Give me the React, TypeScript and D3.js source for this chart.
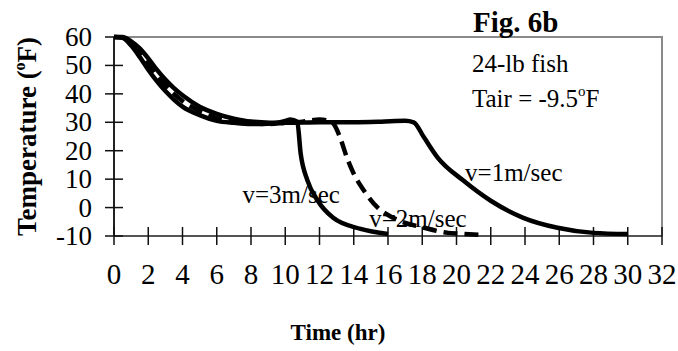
import React, { useEffect, useRef } from "react"
import * as d3 from "d3"

// cooling curves, 24-lb fish, Tair = -9.5 F
const v3Time = [0, 0.5, 1, 1.5, 2, 2.5, 3, 3.5, 4, 5, 6, 7, 8, 9, 10, 10.3, 10.7, 10.9, 11.3, 11.9, 12.8, 14.4, 16.0]
const v3Temp = [60, 59.7, 57, 53, 48.5, 44.5, 41, 38, 35.5, 32.5, 30.5, 29.8, 29.4, 29.5, 30.5, 31, 30.2, 19, 9.5, 2.4, -3.6, -7.5, -9.3]

const v2Time = [0, 0.5, 1, 1.5, 2, 2.5, 3, 3.5, 4, 5, 6, 7, 8, 9, 10, 11, 12, 12.5, 12.8, 13.2, 13.6, 14.0, 14.6, 15.4, 16.3, 16.7, 18.1, 19.5, 20.2, 21.5]
const v2Temp = [60, 59.8, 57.8, 54.5, 50.5, 46.5, 43, 40, 37.5, 34, 31.5, 30.2, 29.6, 29.4, 29.8, 30.2, 31, 30.5, 29.6, 24.7, 17.6, 11.9, 5.9, 0, -3.6, -4.7, -7.1, -8.9, -9.2, -9.6]

const v1Time = [0, 0.5, 1, 1.5, 2, 2.5, 3, 3.5, 4, 5, 6, 7, 8, 10, 12, 14, 15.6, 17, 17.5, 18.1, 18.9, 20.4, 22.0, 23.9, 25.9, 28.0, 30.0]
const v1Temp = [60, 60, 58.5, 56, 52.5, 48.5, 45, 42, 39.5, 35.5, 33, 31.3, 30.3, 29.8, 30, 30, 30.2, 30.5, 30, 24.7, 17.6, 9.5, 2.4, -3.6, -7.1, -8.9, -9.3]

const xTicks = d3.range(0, 33, 2)
const yTicks = d3.range(-10, 61, 10)

const series = [
    { name: "v=3m/sec", time: v3Time, temp: v3Temp, dash: null, lx: 7.5, ly: 1.5 },
    { name: "v=2m/sec", time: v2Time, temp: v2Temp, dash: "14,7", lx: 14.9, ly: -7 },
    { name: "v=1m/sec", time: v1Time, temp: v1Temp, dash: null, lx: 20.5, ly: 9.5 },
]

const W = 678
const H = 351

export default function App() {
    const ref = useRef<SVGSVGElement>(null)

    useEffect(() => {
        const svg = d3.select(ref.current)
        svg.selectAll("*").remove()

        const x = d3.scaleLinear().domain([0, 32]).range([114, 662])
        const y = d3.scaleLinear().domain([-10, 60]).range([236, 37])
        const font = "'Liberation Serif', 'Times New Roman', serif"

        // frame
        svg.append("rect")
            .attr("x", x(0)).attr("y", y(60))
            .attr("width", x(32) - x(0)).attr("height", y(-10) - y(60))
            .attr("fill", "none").attr("stroke", "#8a8a8a").attr("stroke-width", 2)

        // axes
        svg.append("line")
            .attr("x1", x(0)).attr("x2", x(0)).attr("y1", y(60)).attr("y2", y(-10))
            .attr("stroke", "#222").attr("stroke-width", 2)
        svg.append("line")
            .attr("x1", x(0)).attr("x2", x(32)).attr("y1", y(-10)).attr("y2", y(-10))
            .attr("stroke", "#555").attr("stroke-width", 2)

        svg.selectAll(".xt").data(xTicks).enter().append("line")
            .attr("x1", d => x(d)).attr("x2", d => x(d))
            .attr("y1", y(-10) - 9).attr("y2", y(-10) + 9)
            .attr("stroke", "#111").attr("stroke-width", 1.5)
        svg.selectAll(".yt").data(yTicks).enter().append("line")
            .attr("x1", x(0) - 9).attr("x2", x(0) + 9)
            .attr("y1", d => y(d)).attr("y2", d => y(d))
            .attr("stroke", "#111").attr("stroke-width", 1.5)

        svg.selectAll(".xl").data(xTicks).enter().append("text")
            .attr("x", d => x(d)).attr("y", 284)
            .attr("text-anchor", "middle")
            .attr("font-family", font).attr("font-size", 29)
            .text(d => d)
        svg.selectAll(".yl").data(yTicks).enter().append("text")
            .attr("x", 92).attr("y", d => y(d) + 9)
            .attr("text-anchor", "end")
            .attr("font-family", font).attr("font-size", 27)
            .text(d => d)

        // curves
        const line = d3.line<[number, number]>()
            .x(d => x(d[0])).y(d => y(d[1]))
            .curve(d3.curveMonotoneX)

        series.forEach(s => {
            const pts = s.time.map((t, i) => [t, s.temp[i]] as [number, number])
            svg.append("path")
                .attr("d", line(pts))
                .attr("fill", "none")
                .attr("stroke", "#000")
                .attr("stroke-width", 4.5)
                .attr("stroke-dasharray", s.dash)
        })

        series.forEach(s => {
            svg.append("text")
                .attr("x", x(s.lx)).attr("y", y(s.ly))
                .attr("font-family", font).attr("font-size", 25)
                .text(s.name)
        })

        // annotations
        svg.append("text")
            .attr("x", 473).attr("y", 32)
            .attr("font-family", font).attr("font-size", 29).attr("font-weight", "bold")
            .text("Fig. 6b")
        svg.append("text")
            .attr("x", 472).attr("y", 72)
            .attr("font-family", font).attr("font-size", 25)
            .text("24-lb fish")
        const tair = svg.append("text")
            .attr("x", 472).attr("y", 107)
            .attr("font-family", font).attr("font-size", 25)
        tair.append("tspan").text("Tair = -9.5")
        tair.append("tspan").attr("font-size", 15).attr("dy", -11).text("o")
        tair.append("tspan").attr("dy", 11).text("F")

        const ylab = svg.append("text")
            .attr("transform", "translate(36," + (y(25)) + ") rotate(-90)")
            .attr("text-anchor", "middle")
            .attr("font-family", font).attr("font-size", 27).attr("font-weight", "bold")
        ylab.append("tspan").text("Temperature (")
        ylab.append("tspan").attr("font-size", 16).attr("dy", -11).text("o")
        ylab.append("tspan").attr("dy", 11).text("F)")

        svg.append("text")
            .attr("x", 338).attr("y", 340)
            .attr("text-anchor", "middle")
            .attr("font-family", font).attr("font-size", 23).attr("font-weight", "bold")
            .text("Time (hr)")
    }, [])

    return (
        <svg
            ref={ref}
            width={W}
            height={H}
            style={{ position: "absolute", left: 0, top: 0, background: "#fff" }}
        />
    )
}
